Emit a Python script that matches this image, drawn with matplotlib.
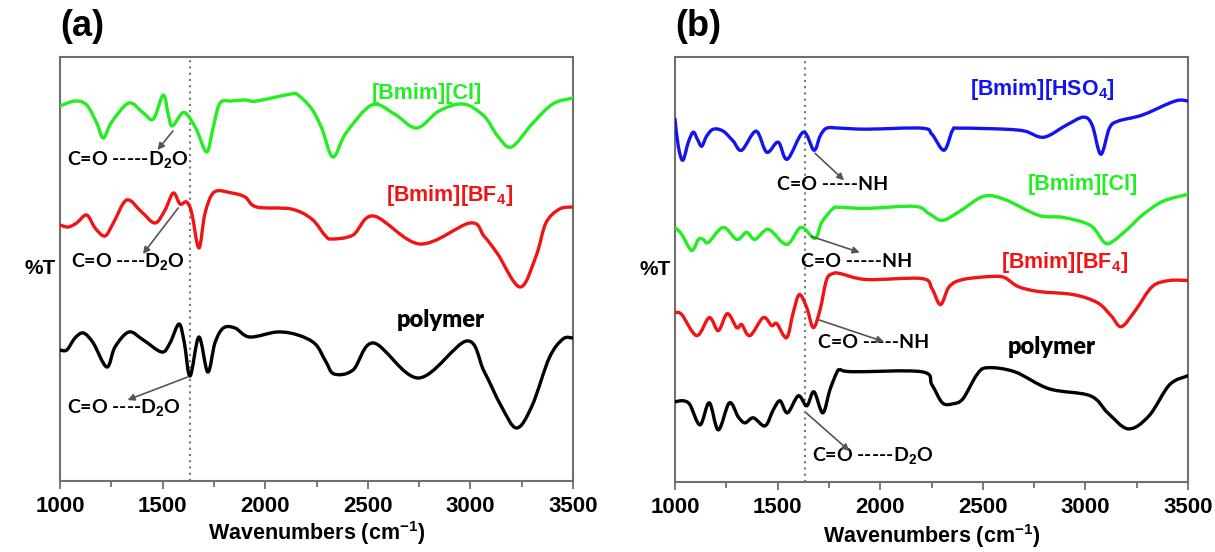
import matplotlib
matplotlib.use("Agg")
import matplotlib.pyplot as plt
from matplotlib.ticker import MultipleLocator
from matplotlib.path import Path
from matplotlib.patches import PathPatch

plt.rcParams['font.family'] = ['Liberation Sans', 'DejaVu Sans']
plt.rcParams['font.weight'] = 'bold'
plt.rcParams['mathtext.fontset'] = 'custom'
plt.rcParams['mathtext.rm'] = 'Liberation Sans:bold'
plt.rcParams['mathtext.default'] = 'rm'

# ---------------- panel (a) data (wavenumber, %T arbitrary units) ----------------
a_green_x = [1000, 1073, 1130, 1179, 1211, 1252, 1336, 1406, 1455, 1503, 1528, 1547, 1596, 1625,
             1666, 1715, 1747, 1780, 1837, 1902, 1958, 2126, 2160, 2227, 2277, 2330, 2394, 2520,
             2630, 2738, 2847, 2965, 3066, 3133, 3200, 3300, 3401, 3500]
a_green_y = [375, 380, 376, 358, 343, 359, 378, 368, 362, 386, 366, 355, 368, 365,
             351, 329, 354, 378, 380, 381, 380, 387, 386, 372, 352, 324, 348, 376,
             367, 353, 370, 377, 365, 345, 334, 357, 377, 383]

a_red_x = [1000, 1040, 1081, 1130, 1171, 1219, 1260, 1325, 1398, 1463, 1512, 1552, 1585, 1617,
           1642, 1677, 1707, 1752, 1837, 1902, 1958, 2126, 2227, 2294, 2327, 2428, 2529, 2754,
           2998, 3066, 3133, 3242, 3320, 3368, 3435, 3500]
a_red_y = [256, 254, 258, 266, 253, 245, 258, 281, 269, 258, 271, 288, 277, 279,
           268, 233, 268, 289, 288, 284, 274, 272, 262, 245, 242, 246, 265, 237,
           258, 245, 227, 194, 225, 258, 272, 274]

a_black_x = [1000, 1033, 1073, 1114, 1162, 1228, 1268, 1336, 1406, 1496, 1536, 1580, 1606, 1634,
             1677, 1720, 1755, 1796, 1853, 1924, 2059, 2159, 2244, 2294, 2336, 2428, 2529, 2747,
             2982, 3066, 3150, 3225, 3300, 3384, 3451, 3500]
a_black_y = [131, 131, 143, 148, 138, 114, 134, 149, 141, 129, 138, 157, 138, 105,
             144, 109, 138, 153, 153, 144, 149, 146, 137, 120, 107, 111, 138, 103,
             140, 110, 75, 53, 75, 123, 142, 143]

# ---------------- panel (b) data ----------------
b_blue_x = [1000, 1016, 1038, 1065, 1089, 1109, 1130, 1154, 1187, 1235, 1284, 1325, 1395, 1447,
            1503, 1547, 1625, 1677, 1707, 1739, 1804, 1934, 2202, 2252, 2311, 2353, 2387, 2605,
            2706, 2798, 2907, 2991, 3033, 3075, 3117, 3159, 3276, 3410, 3461, 3500]
b_blue_y = [362, 335, 321, 339, 349, 342, 335, 345, 352, 350, 340, 331, 350, 329,
            339, 322, 349, 331, 345, 353, 353, 352, 353, 347, 331, 351, 353, 352,
            350, 344, 356, 364, 356, 327, 353, 360, 366, 378, 381, 380]

b_green_x = [1000, 1033, 1081, 1114, 1138, 1162, 1235, 1301, 1349, 1390, 1455, 1544, 1614, 1682,
             1715, 1771, 1804, 1934, 2168, 2236, 2303, 2387, 2504, 2605, 2773, 2890, 3024, 3092,
             3133, 3209, 3276, 3377, 3500]
b_green_y = [254, 247, 231, 242, 242, 239, 254, 242, 249, 242, 252, 237, 254, 243,
             259, 273, 274, 273, 275, 268, 261, 270, 285, 282, 266, 264, 256, 239,
             240, 253, 266, 280, 287]

b_red_x = [1000, 1033, 1106, 1167, 1211, 1255, 1301, 1325, 1365, 1430, 1471, 1496, 1544, 1576,
           1606, 1642, 1674, 1707, 1739, 1771, 1804, 1934, 2202, 2252, 2294, 2337, 2403, 2538,
           2605, 2672, 2773, 2940, 3058, 3125, 3175, 3243, 3326, 3410, 3500]
b_red_y = [169, 167, 146, 164, 151, 168, 154, 157, 146, 164, 156, 158, 144, 169,
           187, 174, 154, 172, 202, 208, 208, 202, 203, 193, 177, 195, 202, 205,
           204, 195, 190, 187, 179, 166, 155, 171, 195, 201, 201]

b_black_x = [1000, 1040, 1073, 1122, 1167, 1211, 1265, 1308, 1341, 1382, 1439, 1479, 1512, 1548,
             1601, 1642, 1677, 1720, 1755, 1788, 1804, 1866, 2202, 2252, 2303, 2353, 2403, 2471,
             2521, 2655, 2823, 3024, 3109, 3209, 3310, 3410, 3500]
b_black_y = [80, 81, 77, 57, 79, 52, 79, 65, 59, 64, 56, 72, 81, 69,
             86, 76, 90, 69, 92, 109, 112, 110, 110, 97, 79, 78, 83, 107,
             114, 110, 93, 86, 69, 53, 66, 97, 106]

x_ticks = [1000, 1500, 2000, 2500, 3000, 3500]
marker_wn = 1635

GREEN = '#22ee22'
RED = '#f01414'
BLUE = '#1414f0'
BLACK = '#000000'
SPINE = '#707070'

fig = plt.figure(figsize=(12.15, 5.52), dpi=100)
ax_a = fig.add_axes([60 / 1215, 71 / 552, 513 / 1215, 424 / 552])
ax_b = fig.add_axes([675 / 1215, 70 / 552, 513 / 1215, 425 / 552])

ann_font = dict(family=['Lato', 'DejaVu Sans'], fontweight='bold', fontsize=14, color='black')
arrow_kw = dict(arrowstyle='-|>', color='#555555', lw=1.2, mutation_scale=10,
                shrinkA=0, shrinkB=0)


def smooth_curve(ax, xs, ys, color):
    """Draw the read points as a smooth (Catmull-Rom style Bezier) line through every point."""
    n = len(xs)
    verts = [(xs[0], ys[0])]
    codes = [Path.MOVETO]
    for i in range(n - 1):
        i0 = max(i - 1, 0)
        i3 = min(i + 2, n - 1)
        c1 = (xs[i] + (xs[i + 1] - xs[i0]) / 6.0, ys[i] + (ys[i + 1] - ys[i0]) / 6.0)
        c2 = (xs[i + 1] - (xs[i3] - xs[i]) / 6.0, ys[i + 1] - (ys[i3] - ys[i]) / 6.0)
        verts += [c1, c2, (xs[i + 1], ys[i + 1])]
        codes += [Path.CURVE4] * 3
    patch = PathPatch(Path(verts, codes), facecolor='none', edgecolor=color, lw=2.4,
                      joinstyle='round', capstyle='round', zorder=3)
    ax.add_patch(patch)


def style_axis(ax, label, labelpad):
    ax.set_xlim(1000, 3500)
    ax.set_ylim(0, 424)
    ax.set_yticks([])
    ax.set_xticks(x_ticks)
    ax.xaxis.set_minor_locator(MultipleLocator(250))
    ax.tick_params(axis='x', which='both', direction='out', color=SPINE, width=1.3,
                   labelsize=16, pad=5)
    ax.tick_params(axis='x', which='major', length=6)
    ax.tick_params(axis='x', which='minor', length=4)
    for lbl in ax.get_xticklabels():
        lbl.set_fontweight('bold')
    for s in ax.spines.values():
        s.set_color(SPINE)
        s.set_linewidth(1.5)
    ax.axvline(marker_wn, color='#777777', ls=(0, (1, 2)), lw=1.5, zorder=1)
    ax.set_xlabel(r'Wavenumbers (cm$^{-1}$)', fontsize=15.5, fontweight='bold', labelpad=labelpad)
    ax.set_ylabel('%T', fontsize=15, fontweight='bold', rotation=0, labelpad=14, va='center')
    ax.text(0.0, 1.03, label, transform=ax.transAxes, fontsize=26, fontweight='bold',
            ha='left', va='bottom')


# ---------------- panel (a) ----------------
style_axis(ax_a, '(a)', 1)
smooth_curve(ax_a, a_green_x, a_green_y, GREEN)
smooth_curve(ax_a, a_red_x, a_red_y, RED)
smooth_curve(ax_a, a_black_x, a_black_y, BLACK)

ax_a.text(2788, 388, '[Bmim][Cl]', color=GREEN, fontsize=15.5, fontweight='bold', ha='center', va='center')
ax_a.text(2896, 286, '[Bmim][BF$_4$]', color=RED, fontsize=15.5, fontweight='bold', ha='center', va='center')
ax_a.text(2857, 161, 'polymer', color=BLACK, fontsize=17, ha='center', va='center',
          family=['Lato', 'DejaVu Sans'], fontweight='heavy')

ax_a.text(1034, 321, 'C=O -----D$_2$O', ha='left', va='center', **ann_font)
ax_a.annotate('', xy=(1475, 331), xytext=(1550, 350), arrowprops=arrow_kw)
ax_a.text(1052, 219, 'C=O ----D$_2$O', ha='left', va='center', **ann_font)
ax_a.annotate('', xy=(1404, 227), xytext=(1576, 273), arrowprops=arrow_kw)
ax_a.text(1034, 73, 'C=O ----D$_2$O', ha='left', va='center', **ann_font)
ax_a.annotate('', xy=(1329, 81), xytext=(1622, 104), arrowprops=arrow_kw)

# ---------------- panel (b) ----------------
style_axis(ax_b, '(b)', 3)
smooth_curve(ax_b, b_blue_x, b_blue_y, BLUE)
smooth_curve(ax_b, b_green_x, b_green_y, GREEN)
smooth_curve(ax_b, b_red_x, b_red_y, RED)
smooth_curve(ax_b, b_black_x, b_black_y, BLACK)

ax_b.text(2793, 392, '[Bmim][HSO$_4$]', color=BLUE, fontsize=15.5, fontweight='bold', ha='center', va='center')
ax_b.text(2988, 297, '[Bmim][Cl]', color=GREEN, fontsize=15.5, fontweight='bold', ha='center', va='center')
ax_b.text(2896, 219, '[Bmim][BF$_4$]', color=RED, fontsize=15.5, fontweight='bold', ha='center', va='center')
ax_b.text(2837, 135, 'polymer', color=BLACK, fontsize=17, ha='center', va='center',
          family=['Lato', 'DejaVu Sans'], fontweight='heavy')

ax_b.text(1497, 297, 'C=O -----NH', ha='left', va='center', **ann_font)
ax_b.annotate('', xy=(1824, 301), xytext=(1682, 328), arrowprops=arrow_kw)
ax_b.text(1614, 220, 'C=O -----NH', ha='left', va='center', **ann_font)
ax_b.annotate('', xy=(1900, 229), xytext=(1665, 245), arrowprops=arrow_kw)
ax_b.text(1697, 139, 'C=O -----NH', ha='left', va='center', **ann_font)
ax_b.annotate('', xy=(2018, 140), xytext=(1697, 162), arrowprops=arrow_kw)
ax_b.text(1668, 26, 'C=O -----D$_2$O', ha='left', va='center', **ann_font)
ax_b.annotate('', xy=(1850, 31), xytext=(1639, 69), arrowprops=arrow_kw)

fig.savefig('out.png', dpi=100)
